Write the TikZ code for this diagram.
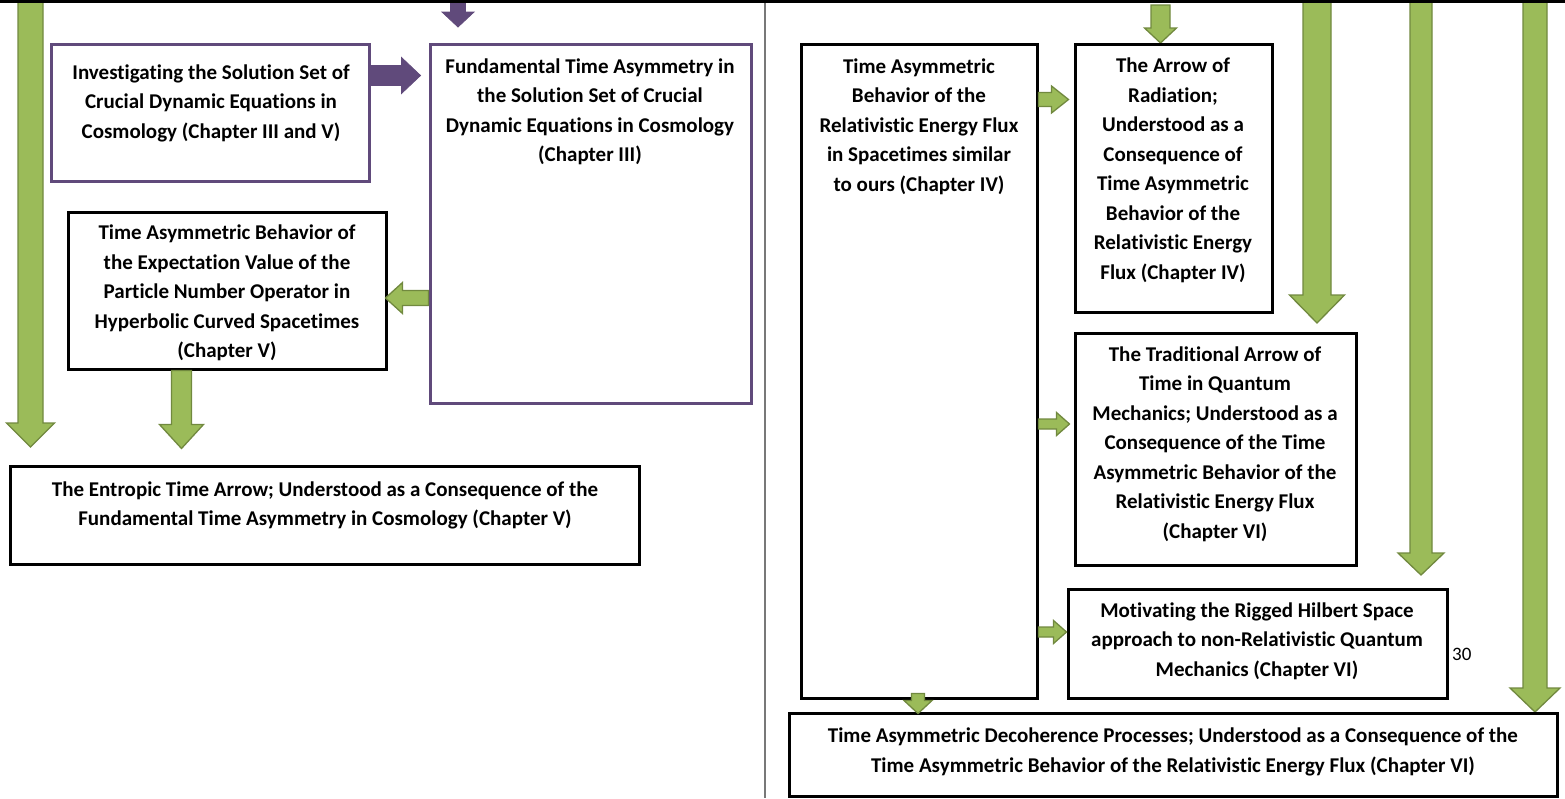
\documentclass[tikz,border=0pt]{standalone}
\usepackage{fontspec}
\setmainfont{Carlito}[Ligatures=NoCommon]
\usetikzlibrary{calc}

\definecolor{leaf}{RGB}{155,187,89}
\definecolor{leafdark}{RGB}{113,137,63}
\definecolor{plum}{RGB}{96,74,123}
\definecolor{rule}{RGB}{120,120,120}

% block arrow pointing down: #2 start, #3 tip, #4 half shaft, #5 half head, #6 head length
\newcommand{\downblock}[6][greenarrow]{%
  \filldraw[#1] ($(#2)+(-#4,0)$) -- ($(#3)+(-#4,-#6)$) -- ($(#3)+(-#5,-#6)$) -- (#3)
    -- ($(#3)+(#5,-#6)$) -- ($(#3)+(#4,-#6)$) -- ($(#2)+(#4,0)$) -- cycle;}
% block arrow pointing sideways: #6 is the signed offset from tip back to head base
\newcommand{\sideblock}[6][greenarrow]{%
  \filldraw[#1] ($(#2)+(0,-#4)$) -- ($(#3)+(#6,-#4)$) -- ($(#3)+(#6,-#5)$) -- (#3)
    -- ($(#3)+(#6,#5)$) -- ($(#3)+(#6,#4)$) -- ($(#2)+(0,#4)$) -- cycle;}

\begin{document}
\begin{tikzpicture}[x=1pt,y=-1pt,
  box/.style={draw=black,line width=3pt,inner sep=0pt,fill=white},
  pbox/.style={draw=plum,line width=3pt,inner sep=0pt,fill=white},
  txt/.style={align=center,inner sep=0pt,font=\fontsize{21}{29.5}\selectfont\bfseries},
  greenarrow/.style={fill=leaf,draw=leafdark,line width=1.3pt,line join=miter},
  purplearrow/.style={fill=plum,draw=plum,line width=0.8pt}]
\useasboundingbox (0,0) rectangle (1565,798);

% page separator
\draw[rule,line width=1.3pt] (765,0) -- (765,798);

% long arrows coming from above
\coordinate (g1s) at (30.5,0);   \coordinate (g1e) at (30.5,447);
\coordinate (g9s) at (1317,0);   \coordinate (g9e) at (1317,323);
\coordinate (g10s) at (1421,0);  \coordinate (g10e) at (1421,575);
\coordinate (g11s) at (1535,0);  \coordinate (g11e) at (1535,712);
\coordinate (g4s) at (1160.5,5); \coordinate (g4e) at (1160.5,43);
\coordinate (p2s) at (458,0);    \coordinate (p2e) at (458,27);
\downblock{g1s}{g1e}{12.5}{24}{24}
\downblock{g9s}{g9e}{14}{27.5}{28}
\downblock{g10s}{g10e}{11}{23}{22}
\downblock{g11s}{g11e}{12}{25}{24}
\downblock{g4s}{g4e}{9.5}{16}{15}
\downblock[purplearrow]{p2s}{p2e}{7.5}{16}{15}

% boxes
\node[pbox,minimum width=318pt,minimum height=137pt] (b1) at (210,112.5) {};
\node[pbox,minimum width=321pt,minimum height=359pt] (b2) at (590.5,223.5) {};
\node[box,minimum width=318pt,minimum height=157pt] (b3) at (227,290.5) {};
\node[box,minimum width=629pt,minimum height=98pt] (b4) at (324.5,515) {};
\node[box,minimum width=236pt,minimum height=654pt] (b5) at (919,371) {};
\node[box,minimum width=197pt,minimum height=268pt] (b6) at (1173.5,178) {};
\node[box,minimum width=281pt,minimum height=232pt] (b7) at (1215.5,449) {};
\node[box,minimum width=379pt,minimum height=109pt] (b8) at (1257.5,643.5) {};
\node[box,minimum width=768pt,minimum height=83pt] (b9) at (1173,754.5) {};

% texts
\node[txt] (t1) at (211,103) {Investigating the Solution Set of\\Crucial Dynamic Equations in\\Cosmology (Chapter III and V)};
\node[txt] (t2) at (590,112) {Fundamental Time Asymmetry in\\the Solution Set of Crucial\\Dynamic Equations in Cosmology\\(Chapter III)};
\node[txt] (t3) at (227,293) {Time Asymmetric Behavior of\\the Expectation Value of the\\Particle Number Operator in\\Hyperbolic Curved Spacetimes\\(Chapter V)};
\node[txt] (t4) at (325,505.5) {The Entropic Time Arrow; Understood as a Consequence of the\\Fundamental Time Asymmetry in Cosmology (Chapter V)};
\node[txt] (t5) at (919,126.5) {Time Asymmetric\\Behavior of the\\Relativistic Energy Flux\\in Spacetimes similar\\to ours (Chapter IV)};
\node[txt] (t6) at (1173,170.5) {The Arrow of\\Radiation;\\Understood as a\\Consequence of\\Time Asymmetric\\Behavior of the\\Relativistic Energy\\Flux (Chapter IV)};
\node[txt] (t7) at (1215,444) {The Traditional Arrow of\\Time in Quantum\\Mechanics; Understood as a\\Consequence of the Time\\Asymmetric Behavior of the\\Relativistic Energy Flux\\(Chapter VI)};
\node[txt] (t8) at (1257,641) {Motivating the Rigged Hilbert Space\\approach to non-Relativistic Quantum\\Mechanics (Chapter VI)};
\node[txt] (t9) at (1173,752) {Time Asymmetric Decoherence Processes; Understood as a Consequence of the\\Time Asymmetric Behavior of the Relativistic Energy Flux (Chapter VI)};
\node[font=\fontsize{19}{22}\selectfont,anchor=west,inner sep=0pt] (pg) at (1452,654) {30};

% connectors between boxes
\sideblock[purplearrow]{$(b1.north east)+(0,33)$}{$(b2.north west)+(-8,33)$}{10}{18}{-19}
\sideblock{$(b2.west)+(0,74.5)$}{$(b3.east)+(-2,7.5)$}{7.5}{15.5}{17}
\downblock{$(b3.south west)+(115,0)$}{$(b3.south west)+(115,78)$}{10}{22}{24}
\sideblock{$(b5.north east)+(0,57)$}{$(b6.north west)+(-5,57)$}{7}{13.5}{-17}
\sideblock{$(b5.east)+(0,53)$}{$(b7.west)+(-4,-25)$}{5}{11.5}{-13}
\sideblock{$(b5.east)+(0,261)$}{$(b8.west)+(0,-11.5)$}{5}{11.5}{-13}
\downblock{$(b5.south)+(-1,-6)$}{$(b9.north)+(-255,2)$}{6.5}{14}{13}

% top rule
\draw[black,line width=2.6pt] (0,1.3) -- (1565,1.3);
\end{tikzpicture}
\end{document}
